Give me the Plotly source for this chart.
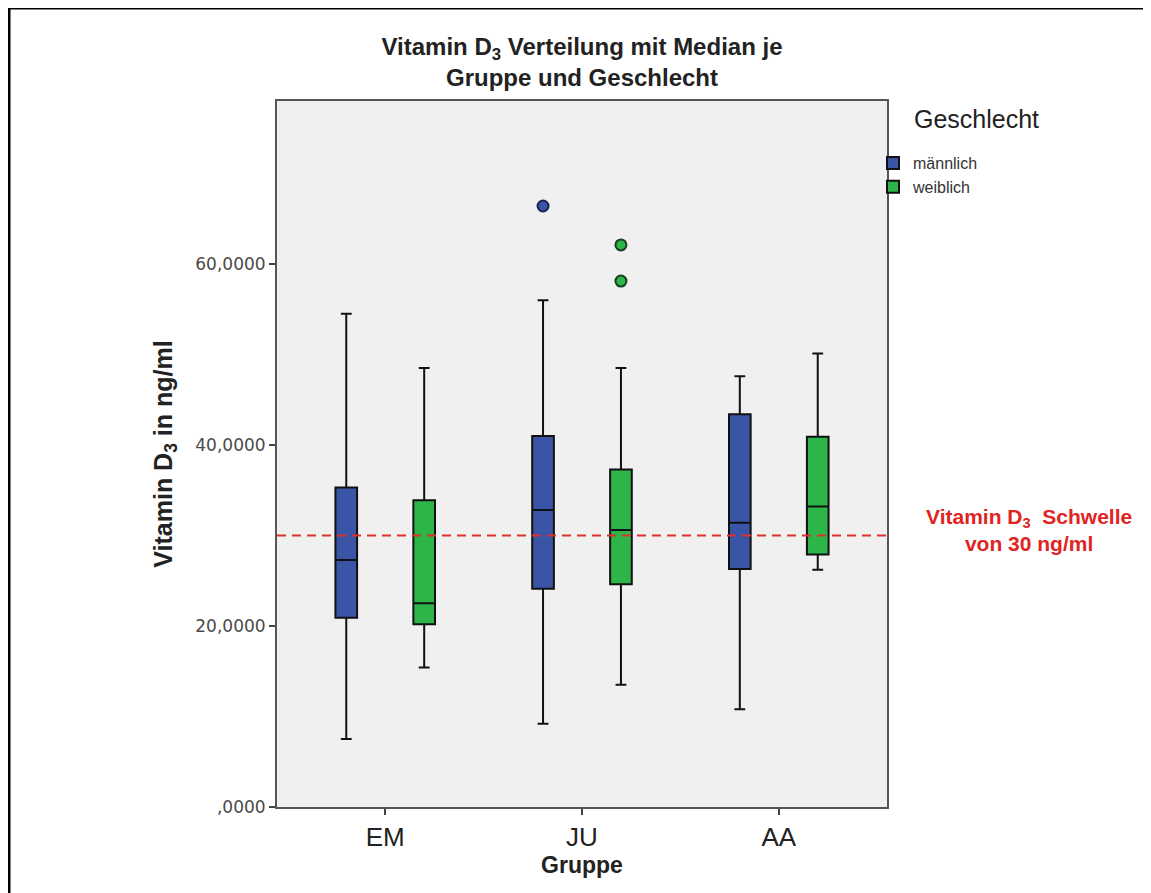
import plotly.graph_objects as go

# ---------------- data ----------------
groups = ["EM", "JU", "AA"]

male_q1 = [20.9, 24.1, 26.3]
male_median = [27.3, 32.8, 31.4]
male_q3 = [35.3, 41.0, 43.4]
male_lower = [7.5, 9.2, 10.8]
male_upper = [54.5, 56.0, 47.6]
male_outlier_groups = ["JU"]
male_outlier_values = [66.4]

female_q1 = [20.2, 24.6, 27.9]
female_median = [22.5, 30.6, 33.2]
female_q3 = [33.9, 37.3, 40.9]
female_lower = [15.4, 13.5, 26.2]
female_upper = [48.5, 48.5, 50.1]
female_outlier_groups = ["JU", "JU"]
female_outlier_values = [62.1, 58.1]

threshold = 30
y_tick_vals = [0, 20, 40, 60]
y_tick_text = [",0000", "20,0000", "40,0000", "60,0000"]

# ---------------- style ----------------
BLUE = "#3A55A6"
GREEN = "#2DB54A"
OFFSET = 0.198
BOXW = 0.11

# page is drawn with an 8px body offset; keep the figure inside the window
ML, MT = 269, 93
PW, PH = 610, 706
FW, FH = 1143, 885

gidx = {g: i for i, g in enumerate(groups)}

fig = go.Figure()

for name, color, edge, q1, med, q3, lo, up, og, ov, sign in [
    ("männlich", BLUE, "#1a2450", male_q1, male_median, male_q3, male_lower, male_upper,
     male_outlier_groups, male_outlier_values, -1),
    ("weiblich", GREEN, "#16401e", female_q1, female_median, female_q3, female_lower, female_upper,
     female_outlier_groups, female_outlier_values, 1),
]:
    xs = [i + sign * OFFSET for i in range(len(groups))]
    fig.add_trace(go.Box(
        x=xs, q1=q1, median=med, q3=q3, lowerfence=lo, upperfence=up,
        name=name, fillcolor=color, width=BOXW, whiskerwidth=0.5,
        line=dict(color="#111111", width=2), hoverinfo="skip",
    ))
    fig.add_trace(go.Scatter(
        x=[gidx[g] + sign * OFFSET for g in og], y=ov, mode="markers",
        marker=dict(color=color, size=11, line=dict(color=edge, width=2)),
        showlegend=False, hoverinfo="skip",
    ))

fig.add_shape(type="line", xref="paper", x0=0, x1=1, yref="y", y0=threshold, y1=threshold,
              line=dict(color="#E0302A", width=2, dash="9px,6px"))

fig.add_annotation(
    xref="paper", yref="y", x=(1021 - ML) / PW, y=threshold + 0.6, xanchor="center", yanchor="middle",
    text="<b>Vitamin D<sub>3</sub>  Schwelle<br>von 30 ng/ml</b>", showarrow=False,
    font=dict(family="Liberation Sans, Arial", size=21, color="#E02424"), align="center",
)

# legend title
fig.add_annotation(
    xref="paper", yref="paper", x=(904 - ML) / PW, y=1 + (MT - 111) / PH,
    xanchor="left", yanchor="middle", text="Geschlecht", showarrow=False,
    font=dict(family="Liberation Sans, Arial", size=25, color="#222222"),
)

# outer frame
fig.add_shape(type="rect", xref="paper", yref="paper",
              x0=(1 - ML) / PW, x1=(1170 - ML) / PW,
              y0=(MT + PH - 900) / PH, y1=(MT + PH - 0) / PH,
              line=dict(color="black", width=3), fillcolor="rgba(0,0,0,0)", layer="below")

fig.update_layout(
    width=FW, height=FH,
    margin=dict(l=ML, r=FW - ML - PW, t=MT, b=FH - MT - PH),
    paper_bgcolor="white", plot_bgcolor="#F0F0F0",
    font=dict(family="Liberation Sans, Arial", color="#222222"),
    title=dict(
        text="<b>Vitamin D<sub>3</sub> Verteilung mit Median je<br>Gruppe und Geschlecht</b>",
        x=574 / FW, xanchor="center", y=1 - 47 / FH, yanchor="top",
        font=dict(size=24, color="#222222"),
    ),
    showlegend=True,
    legend=dict(
        x=(865 - ML) / PW, xanchor="left", y=1 + (MT - 138) / PH, yanchor="top",
        font=dict(size=16, color="#333333"), bgcolor="rgba(0,0,0,0)",
        tracegroupgap=0, itemwidth=30,
    ),
    xaxis=dict(
        range=[-0.55, 2.55], tickvals=list(range(len(groups))), ticktext=groups,
        showgrid=False, zeroline=False, showline=True, mirror=True,
        linecolor="#555555", linewidth=2, ticks="outside", ticklen=6, tickwidth=2,
        tickcolor="#444444", tickfont=dict(size=26, color="#222222"),
        title=dict(text="<b>Gruppe</b>", font=dict(size=23, color="#222222"), standoff=6),
    ),
    yaxis=dict(
        range=[0, 78], tickvals=y_tick_vals, ticktext=y_tick_text,
        showgrid=False, zeroline=False, showline=True, mirror=True,
        linecolor="#555555", linewidth=2, ticks="outside", ticklen=6, tickwidth=2,
        tickcolor="#444444", tickfont=dict(family="DejaVu Sans", size=17, color="#4a4a4a"),
        title=dict(text="<b>Vitamin D<sub>3</sub> in ng/ml</b>", font=dict(size=25, color="#222222"), standoff=16),
    ),
)

fig.write_html("out.html")
